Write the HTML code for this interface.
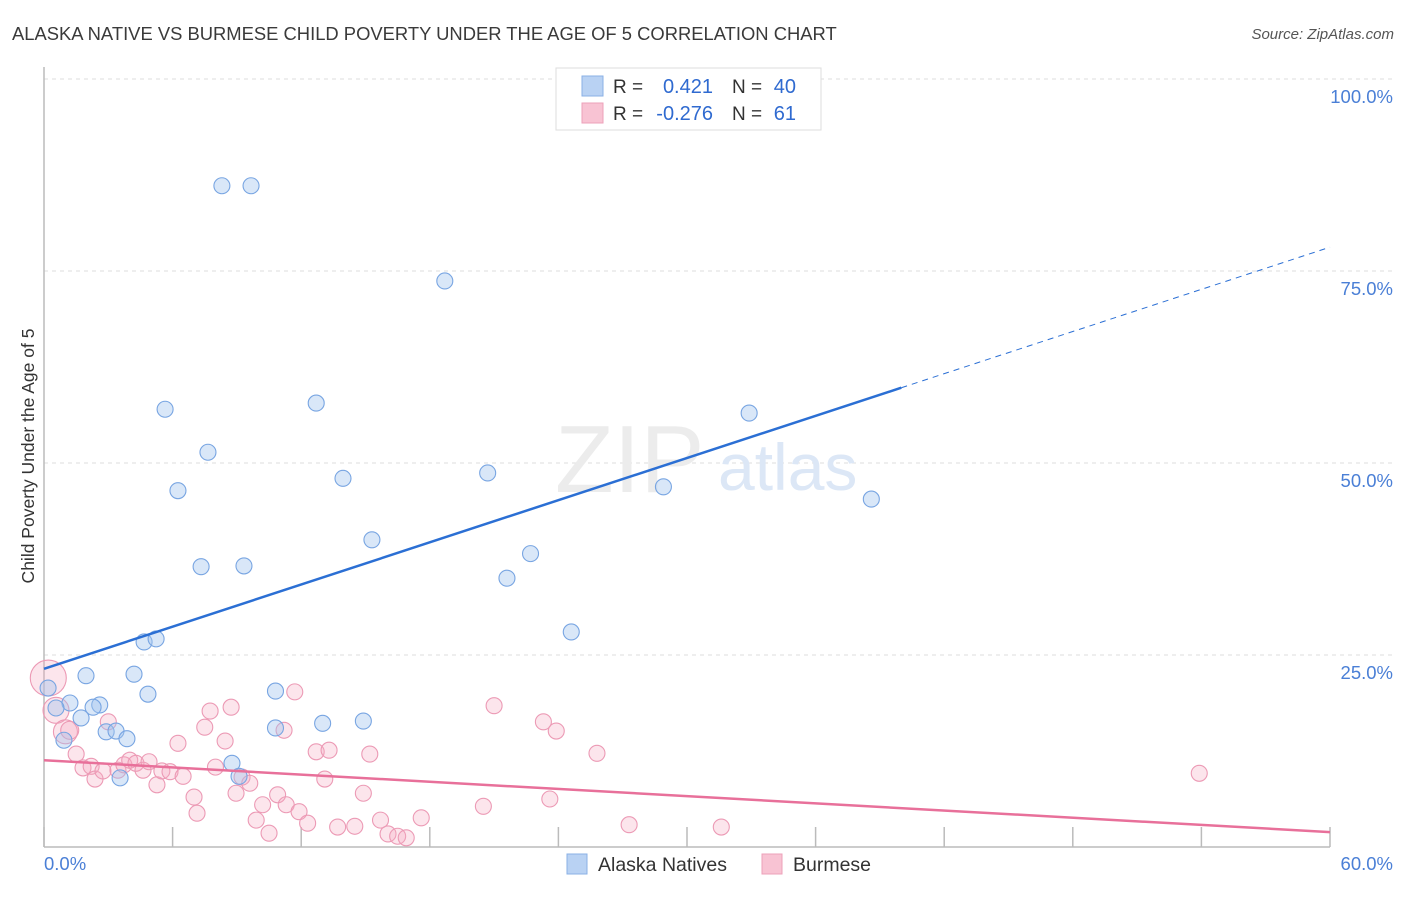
<!DOCTYPE html>
<html><head><meta charset="utf-8"><style>
body{margin:0;background:#fff;font-family:"Liberation Sans",sans-serif;}
svg text{font-family:"Liberation Sans",sans-serif;}
</style></head><body>
<svg id="chart" width="1406" height="892" xmlns="http://www.w3.org/2000/svg">
<text x="12" y="40" font-size="18.4" fill="#3a3a3a">ALASKA NATIVE VS BURMESE CHILD POVERTY UNDER THE AGE OF 5 CORRELATION CHART</text>
<text x="1394" y="39" font-size="15" font-style="italic" fill="#555" text-anchor="end">Source: ZipAtlas.com</text>
<text x="0" y="0" transform="translate(34,456) rotate(-90)" font-size="17.5" fill="#333" text-anchor="middle">Child Poverty Under the Age of 5</text>
<g id="grid"></g>
<text x="555" y="492" font-size="96" font-family="Liberation Serif" fill="#ececec">ZIP</text>
<text x="718" y="490" font-size="66" fill="#dce7f6">atlas</text>
<g id="axes"></g>
<g id="pinkpts"></g>
<g id="bluepts"></g>
<g id="lines"></g>
<g>
<rect x="556" y="68" width="265" height="62" fill="#fff" stroke="#ddd"/>
<rect x="582" y="76" width="21" height="20" fill="#b9d2f3" stroke="#8ab0e6"/>
<rect x="582" y="103" width="21" height="20" fill="#f8c3d3" stroke="#eda0b9"/>
<text x="613" y="93" font-size="19" fill="#333">R =</text>
<text x="713" y="93" font-size="20" fill="#2f6ad0" text-anchor="end">0.421</text>
<text x="732" y="93" font-size="19" fill="#333">N =</text>
<text x="796" y="93" font-size="20" fill="#2f6ad0" text-anchor="end">40</text>
<text x="613" y="120" font-size="19" fill="#333">R =</text>
<text x="713" y="120" font-size="20" fill="#2f6ad0" text-anchor="end">-0.276</text>
<text x="732" y="120" font-size="19" fill="#333">N =</text>
<text x="796" y="120" font-size="20" fill="#2f6ad0" text-anchor="end">61</text>
</g>
<g>
<rect x="567" y="854" width="20" height="20" fill="#b9d2f3" stroke="#8ab0e6"/>
<text x="598" y="871" font-size="19.5" fill="#333">Alaska Natives</text>
<rect x="762" y="854" width="20" height="20" fill="#f8c3d3" stroke="#eda0b9"/>
<text x="793" y="871" font-size="19.5" fill="#333">Burmese</text>
</g>
</svg>
<script>
const yTicks=[25,50,75,100];
const yTickLabels=["25.0%","50.0%","75.0%","100.0%"];
const xTickVals=[0,6,12,18,24,30,36,42,48,54,60];
const blueX=[8.3,9.66,18.7,5.65,12.7,7.65,6.25,13.95,20.7,32.9,28.9,38.6,15.3,22.7,21.6,7.33,9.33,24.6,4.67,5.23,1.96,4.2,4.85,0.19,1.21,2.6,2.29,0.56,1.73,10.8,10.8,13.0,14.9,2.9,3.36,3.87,0.93,8.77,9.1,3.55];
const blueY=[86.1,86.1,73.7,57.0,57.8,51.4,46.4,48.0,48.7,56.5,46.9,45.3,40.0,38.2,35.0,36.5,36.6,28.0,26.7,27.1,22.3,22.5,19.9,20.7,18.75,18.5,18.2,18.1,16.8,20.3,15.5,16.1,16.4,15.0,15.1,14.1,13.9,10.9,9.2,9.0];
const pinkX=[0.2,0.56,1.0,1.2,3.0,1.5,1.82,2.2,2.38,2.75,3.45,3.73,4.0,4.29,4.62,4.9,5.27,5.5,5.88,6.25,6.49,7.0,7.14,7.5,7.75,8.0,8.45,8.73,8.96,9.24,9.6,9.9,10.2,10.5,10.9,11.2,11.3,11.7,11.9,12.3,12.7,13.1,13.3,13.7,14.5,14.9,15.2,15.7,16.05,16.5,16.9,17.6,20.5,21.0,23.3,23.6,23.9,25.8,27.3,31.6,53.9];
const pinkY=[22.0,17.8,15.0,15.2,16.3,12.1,10.3,10.5,8.85,9.9,10.0,10.7,11.3,10.9,10.0,11.1,8.1,9.9,9.8,13.5,9.2,6.5,4.4,15.6,17.7,10.4,13.8,18.2,7.0,9.1,8.3,3.5,5.5,1.8,6.8,15.2,5.5,20.2,4.6,3.1,12.4,8.85,12.6,2.6,2.7,7.0,12.1,3.5,1.7,1.4,1.2,3.8,5.3,18.4,16.3,6.25,15.1,12.2,2.9,2.6,9.6];
const pinkR=[18,13,12,9,8,8,8,8,8,8,8,8,8,8,8,8,8,8,8,8,8,8,8,8,8,8,8,8,8,8,8,8,8,8,8,8,8,8,8,8,8,8,8,8,8,8,8,8,8,8,8,8,8,8,8,8,8,8,8,8,8];
const blueLine=[23.2,0.915];
const pinkLine=[11.3,-0.156];

const NS="http://www.w3.org/2000/svg";
const X=v=>44+v*(1286/60);
const Y=v=>847-v*7.68;
function mk(tag,attrs,parent){const e=document.createElementNS(NS,tag);for(const k in attrs)e.setAttribute(k,attrs[k]);document.getElementById(parent).appendChild(e);return e;}

let e=mk('line',{x1:44,x2:1394,y1:Y(100),y2:Y(100),stroke:'#ddd','stroke-dasharray':'4,4'},'grid');


yTicks.forEach((t,i)=>{
  const g=mk('line',{x1:44,x2:1394,y1:Y(t),y2:Y(t),stroke:'#ddd','stroke-dasharray':'4,4'},'grid');
  
  
  const l=mk('text',{x:1393,y:Y(t)+24,'font-size':18.5,fill:'#4a7fd6','text-anchor':'end'},'axes');
  l.textContent=yTickLabels[i];
  
  
});
e=mk('line',{x1:44,x2:44,y1:67,y2:847,stroke:'#bbb','stroke-width':1.5},'axes');


e=mk('line',{x1:44,x2:1330,y1:847,y2:847,stroke:'#bbb','stroke-width':1.5},'axes');


xTickVals.forEach(t=>{
  const k=mk('line',{x1:X(t),x2:X(t),y1:827,y2:847,stroke:'#bbb','stroke-width':1.5},'axes');
  
  
});
e=mk('text',{x:44,y:870,'font-size':18.5,fill:'#4a7fd6'},'axes');e.textContent='0.0%';


e=mk('text',{x:1393,y:870,'font-size':18.5,fill:'#4a7fd6','text-anchor':'end'},'axes');e.textContent='60.0%';



pinkX.forEach((x,i)=>{
  const c=mk('circle',{cx:X(x),cy:Y(pinkY[i]),r:pinkR[i],fill:'rgba(244,168,192,0.3)',stroke:'#ec9ab5','stroke-width':1.1},'pinkpts');
  
  
});
blueX.forEach((x,i)=>{
  const c=mk('circle',{cx:X(x),cy:Y(blueY[i]),r:8,fill:'rgba(160,195,238,0.4)',stroke:'#78a5e2','stroke-width':1.1},'bluepts');
  
  
});
e=mk('line',{x1:X(0),y1:Y(blueLine[0]),x2:X(40),y2:Y(blueLine[0]+40*blueLine[1]),stroke:'#2b6fd4','stroke-width':2.5},'lines');


e=mk('line',{x1:X(40),y1:Y(blueLine[0]+40*blueLine[1]),x2:X(60),y2:Y(blueLine[0]+60*blueLine[1]),stroke:'#2b6fd4','stroke-width':1,'stroke-dasharray':'6,5'},'lines');


e=mk('line',{x1:X(0),y1:Y(pinkLine[0]),x2:X(60),y2:Y(pinkLine[0]+60*pinkLine[1]),stroke:'#e8709a','stroke-width':2.5},'lines');


</script>
</body></html>
